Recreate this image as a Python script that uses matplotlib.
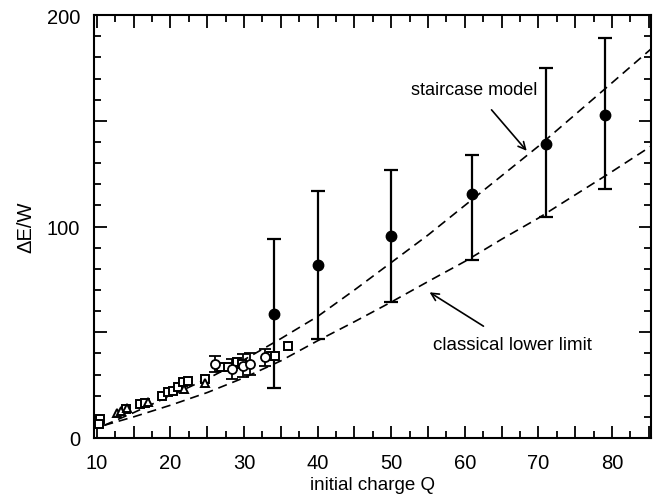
import numpy as np
import matplotlib
matplotlib.use("Agg")
import matplotlib.pyplot as plt
from matplotlib.ticker import MultipleLocator, FuncFormatter

plt.rcParams['font.family'] = ['Liberation Sans', 'DejaVu Sans']

# big points (filled circles) with error bars
q_big = [34, 40, 50, 61, 71, 79]
e_big = [58.6, 81.9, 95.7, 115.4, 139.0, 152.9]
e_big_lo = [23.5, 46.8, 64.5, 84.2, 104.3, 117.7]
e_big_hi = [94.0, 116.9, 126.9, 134.0, 174.8, 189.0]

# small open squares
q_sq = [10.4, 10.3, 13.9, 15.8, 16.5, 18.8, 19.7, 20.4, 21.0, 21.7, 22.4,
        24.7, 26.9, 27.8, 29.0, 29.7, 33.7, 34.2, 35.9]
e_sq = [9.0, 6.8, 13.5, 16.1, 16.5, 20.0, 21.6, 22.4, 24.0, 26.3, 27.1,
        28.0, 33.4, 33.4, 35.8, 35.0, 38.9, 38.9, 43.6]

# small open triangles
q_tri = [12.7, 13.3, 14.1, 17.0, 21.9, 24.7]
e_tri = [11.8, 12.6, 14.2, 16.9, 23.0, 26.0]

# small open circles with error bars
q_circ = [26.0, 28.3, 29.9, 30.8, 32.8]
e_circ = [35.0, 32.6, 34.2, 35.0, 38.2]
err_circ = [4.0, 4.8, 5.5, 5.0, 4.0]

# dashed model curves
q_curve = [11, 15, 20, 25, 30, 35, 40, 45, 50, 55, 60, 65, 70, 75, 80, 85.3]
e_stair = [6, 12, 20, 28, 37, 47, 57.5, 70, 83, 96, 110, 124, 138, 153, 168, 184]
e_class = [6, 10, 15.5, 21.5, 28.5, 36.5, 46, 55, 64.3, 74, 83.5, 94, 104, 115, 126, 138]

fig = plt.figure(figsize=(6.57, 5.02), dpi=100)
ax = fig.add_axes([0.143, 0.1255, 0.848, 0.8425])

ls, = ax.plot(q_curve, e_stair, color='black', lw=1.2)
ls.set_dashes((5.5, 3.5))
lc, = ax.plot(q_curve, e_class, color='black', lw=1.2)
lc.set_dashes((5.5, 3.5))

yerr = [np.array(e_big) - np.array(e_big_lo), np.array(e_big_hi) - np.array(e_big)]
ax.errorbar(q_big, e_big, yerr=yerr, fmt='o', color='black', ms=7.5,
            elinewidth=1.6, capsize=5, capthick=1.6)

ax.errorbar(q_circ, e_circ, yerr=err_circ, fmt='o', mfc='white', mec='black',
            color='black', ms=6.5, mew=1.3, elinewidth=1.3, capsize=4, capthick=1.3)
ax.plot(q_sq, e_sq, 's', mfc='white', mec='black', ms=6, mew=1.4)
ax.plot(q_tri, e_tri, '^', mfc='white', mec='black', ms=6, mew=1.4)

ax.set_xlim(9.6, 85.3)
ax.set_ylim(0, 200)

ax.xaxis.set_major_locator(MultipleLocator(5))
ax.xaxis.set_minor_locator(MultipleLocator(2.5))
ax.xaxis.set_major_formatter(FuncFormatter(lambda v, p: f"{v:.0f}" if round(v) % 10 == 0 else ""))
ax.yaxis.set_major_locator(MultipleLocator(50))
ax.yaxis.set_minor_locator(MultipleLocator(10))
ax.yaxis.set_major_formatter(FuncFormatter(lambda v, p: f"{v:.0f}" if round(v) % 100 == 0 else ""))

ax.tick_params(which='both', direction='in', top=True, right=True, width=1.3,
               labelsize=14.5)
ax.tick_params(which='major', length=9)
ax.tick_params(axis='x', which='major', pad=11)
ax.tick_params(axis='y', which='major', pad=10)
ax.tick_params(which='minor', length=5)
for s in ax.spines.values():
    s.set_linewidth(1.5)

ax.set_xlabel("initial charge Q", fontsize=13.5, labelpad=3)
ax.set_ylabel("ΔE/W", fontsize=14.5, labelpad=8)

ax.annotate("staircase model", xy=(68.4, 135.8), xytext=(61.2, 165),
            fontsize=13, ha='center', va='center',
            arrowprops=dict(arrowstyle='->', color='black', lw=1.2,
                            shrinkA=9, shrinkB=0))
ax.annotate("classical lower limit", xy=(55.2, 68.9), xytext=(66.4, 44.4),
            fontsize=13.5, ha='center', va='center',
            arrowprops=dict(arrowstyle='->', color='black', lw=1.2,
                            shrinkA=9, shrinkB=0))

fig.savefig("out.png", dpi=100)
